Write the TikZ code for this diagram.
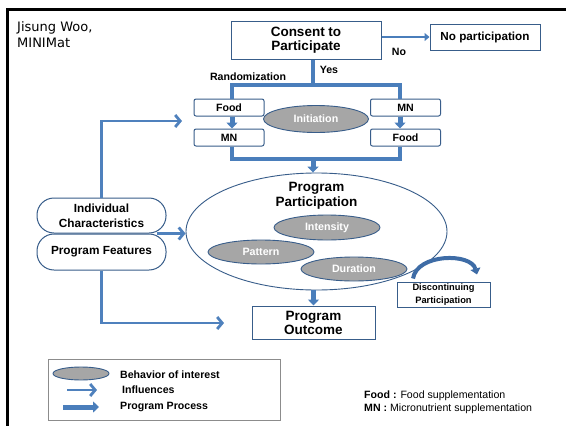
\documentclass[tikz,border=0pt]{standalone}
\usepackage{fontspec}
\setmainfont{Liberation Sans}
\newfontfamily\authorfont{DejaVu Sans}
\usepackage{tikz}
\usetikzlibrary{arrows.meta,positioning,shapes.geometric}
\definecolor{frameink} {HTML}{000000}
\definecolor{flowblue} {HTML}{4F81BD}
\definecolor{procblue} {HTML}{4A7EBB}
\definecolor{edgeblue} {HTML}{385D8A}
\definecolor{loopblue} {HTML}{3E6CA6}
\definecolor{behavgray}{HTML}{A6A6A6}
\definecolor{keygray}  {HTML}{8C8C8C}

\newcommand{\fsz}[2]{\fontsize{#1}{#2}\selectfont\bfseries}

\tikzset{
  flowbox/.style={draw=edgeblue,line width=1pt,fill=white,align=center,inner sep=0pt},
  smallbox/.style={flowbox,rounded corners=2pt,minimum width=70pt,minimum height=17pt,
                   font=\fsz{10.6}{12}},
  pillbox/.style={flowbox,rounded corners=17pt,minimum width=129pt,font=\fsz{11.8}{15}},
  behav/.style={ellipse,draw=edgeblue,line width=0.9pt,fill=behavgray,text=white,
                inner sep=0pt,minimum width=106pt,minimum height=25pt,font=\fsz{10.7}{12}},
  tag/.style={inner sep=0pt,font=\fsz{10.6}{12}},
  procline/.style={draw=procblue,line width=3.3pt},
  procarrow/.style={procblue,line width=5pt,-{Triangle[length=6pt,width=11pt]}},
  infarrow/.style={flowblue,line width=2.8pt,-{Straight Barb[length=5pt,width=12pt]}}
}

\begin{document}
\begin{tikzpicture}[x=1pt,y=-1pt]
      \fill[white] (0,0) rectangle (566,426);
      \useasboundingbox (0,0) rectangle (566,426);
      \draw[frameink,line width=3.5pt] (7.5,426) |- (566,9.5);
      \node[anchor=north west,align=left,inner sep=0pt,
            font=\authorfont\fontsize{13}{16.5}\selectfont] (author) at (17,21)
        {Jisung Woo,\\MINIMat};
      \node[flowbox,minimum width=150pt,minimum height=38pt,font=\fsz{13.5}{14}]
        (consent) at (306,40) {Consent to\\Participate};
      \node[flowbox,minimum width=110pt,minimum height=26pt,font=\fsz{11.7}{14}]
        (nopart) at (485,37) {No participation};
      \node[tag] (nolabel) at (399,52) {No};
      \node[tag] (yeslabel) at (329,70) {Yes};
      \node[tag] (random) at (248,77) {Randomization};
      \node[smallbox] (lfood) at (229,107.5) {Food};
      \node[smallbox,below=12pt of lfood] (lmn) {MN};
      \node[smallbox] (rmn) at (405.5,107.5) {MN};
      \node[smallbox,below=12pt of rmn] (rfood) {Food};
      \node[behav,minimum width=105pt,minimum height=27pt] (init) at (316,119) {Initiation};
      \node[ellipse,draw=edgeblue,line width=0.9pt,inner sep=0pt,
            minimum width=261pt,minimum height=117pt] (particip) at (316.5,231.5) {};
      \node[align=center,inner sep=0pt,font=\fsz{13.5}{15}]
        (parttitle) at (316.5,195.5) {Program\\Participation};
      \node[behav] (intensity) at (327,227.5) {Intensity};
      \node[behav,minimum height=24pt] (pattern) at (261,252) {Pattern};
      \node[behav,minimum height=24pt] (duration) at (354,269) {Duration};
      \node[flowbox,minimum width=123pt,minimum height=33pt,font=\fsz{13.5}{14}]
        (outcome) at (313.5,322.5) {Program\\Outcome};
      \node[flowbox,minimum width=93pt,minimum height=25pt,font=\fsz{9.3}{13}]
        (discont) at (443.5,294.5) {Discontinuing\\Participation};
      \node[pillbox,minimum height=35pt] (indiv) at (101.5,215.5) {Individual\\Characteristics};
      \node[pillbox,minimum height=36pt,below=0pt of indiv] (feat) {Program Features};

      \coordinate (split) at (313,85);
      \coordinate (merge) at (313,159);
      \coordinate (randin) at (182,121);
      \coordinate (outin) at (224,323);
      \draw[procblue,line width=2.5pt,-{Triangle[length=5pt,width=8pt]}]
        (consent.east |- nopart.west) -- (nopart.west);
      \draw[procline] (consent.south -| split) -- (split);
      \draw[procline] ([xshift=3pt]lfood.north) |- (split) -| ([xshift=-5.5pt]rmn.north);
      \draw[procline] ([xshift=3pt]lmn.south) |- (merge) -| ([xshift=-5.5pt]rfood.south);
      \draw[procarrow] ([xshift=3pt]lfood.south) -- ([xshift=3pt]lmn.north);
      \draw[procarrow] ([xshift=-5.5pt]rmn.south) -- ([xshift=-5.5pt]rfood.north);
      \draw[procarrow] (merge) -- (merge |- particip.north);
      \draw[procarrow] (outcome.north |- particip.south) -- (outcome.north);
      \draw[infarrow] (indiv.north) |- (randin);
      \draw[infarrow] (feat.south) |- (outin);
      \draw[infarrow] ([xshift=-10pt]indiv.south east) -- (particip.west |- indiv.south);
      \draw[loopblue,line width=4pt,-{Triangle[length=6pt,width=10pt]}]
        ([xshift=-30.5pt,yshift=3pt]discont.north) .. controls +(4,-25) and +(-6,-22)
        .. ([xshift=33.5pt,yshift=7pt]discont.north);

      \node[draw=keygray,line width=0.8pt,inner sep=0pt,
            minimum width=232pt,minimum height=61pt] (legend) at (164,389.5) {};
      \node[behav,minimum width=56pt,minimum height=13pt] (keybehav) at (81,373.5) {};
      \node[tag,anchor=west] (keybehavtxt) at (120,375) {Behavior of interest};
      \node[tag,anchor=west] (keyinftxt) at (122,390) {Influences};
      \node[tag,anchor=west] (keyproctxt) at (120,407) {Program Process};
      \draw[infarrow] ([xshift=-55pt]keyinftxt.west) -- ([xshift=-25pt]keyinftxt.west);
      \draw[procarrow] ([xshift=-57pt]keyproctxt.west) -- ([xshift=-21pt]keyproctxt.west);
      \node[anchor=west,inner sep=0pt,font=\fontsize{10.6}{12}\selectfont]
        (keyfood) at (364,396) {\textbf{Food :} Food supplementation};
      \node[anchor=west,inner sep=0pt,font=\fontsize{10.6}{12}\selectfont]
        (keymn) at (364,409) {\textbf{MN :} Micronutrient supplementation};
\end{tikzpicture}
\end{document}
